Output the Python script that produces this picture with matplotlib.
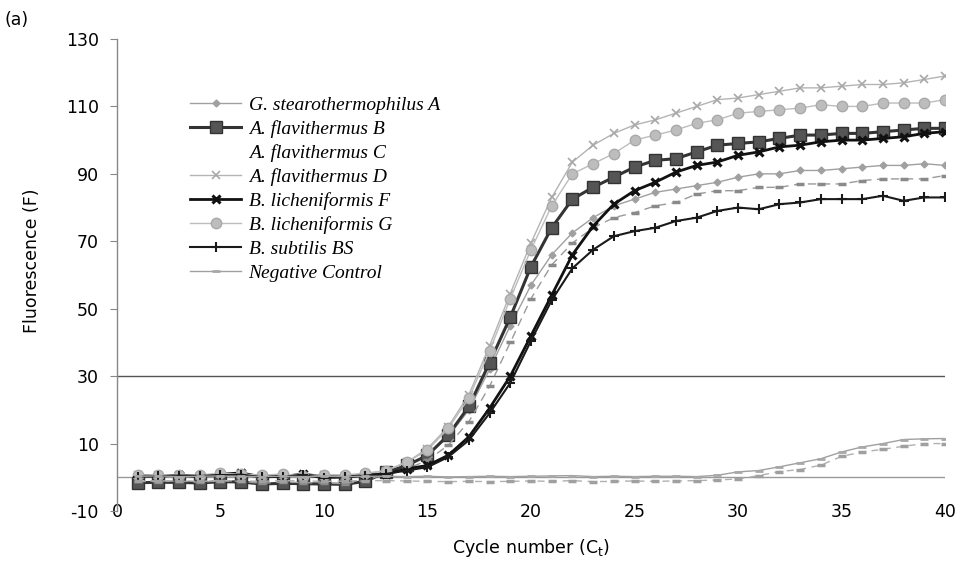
import numpy as np
import matplotlib
matplotlib.use("Agg")
import matplotlib.pyplot as plt

cycles = np.arange(1, 41)

# fluorescence readings per strain, cycles 1..40
g_stearo_A = [0.3, 0.5, 0.4, 0.3, 0.8, 0.9, 0.2, 0.5, 0.3, 0.4, 0.3, 0.8,
              1.5, 3.5, 6.5, 12, 20, 32, 45, 57, 66, 72.5, 77, 80.5, 82.5, 84.5,
              85.5, 86.5, 87.5, 89, 90, 90, 91, 91, 91.5, 92, 92.5, 92.5, 93, 92.5]
a_flavi_B = [-1.6, -1.5, -1.5, -1.7, -1.3, -1.4, -2.0, -1.8, -1.9, -2.0, -2.1, -1.2,
             1.5, 3.5, 6.5, 12.5, 21, 34, 47.5, 62.5, 74, 82.5, 86, 89, 92, 94,
             94.5, 96.5, 98.5, 99, 99.5, 100.5, 101.5, 101.5, 102, 102, 102.5, 103, 103.5, 103.5]
a_flavi_C = [-1.2, -1.3, -1.1, -1.5, -1.0, -1.2, -1.8, -1.4, -1.6, -1.7, -1.9, -0.9,
             1, 2.5, 5, 9.5, 16.5, 27, 40, 53, 63, 69.5, 74, 77, 78.5, 80.5,
             81.5, 84, 85, 85, 86, 86, 87, 87, 87, 88, 88.5, 88.5, 88.5, 89.5]
a_flavi_D = [0.8, 0.6, 0.8, 0.5, 1.0, 1.2, 0.4, 0.8, 0.5, 0.6, 0.5, 1.0,
             2, 4.5, 8.5, 15, 24.5, 39, 54.5, 69.5, 83, 93.5, 98.5, 102, 104.5, 106,
             108, 110, 112, 112.5, 113.5, 114.5, 115.5, 115.5, 116, 116.5, 116.5, 117, 118, 119]
b_lich_F = [0.5, 0.4, 0.6, 0.2, 0.9, 1.3, 0.1, 0.3, 0.9, 0.2, 0.1, 0.6,
            1, 2.5, 3.5, 6.5, 12, 20.5, 30, 42, 54, 66, 74.5, 81, 85, 87.5,
            90.5, 92.5, 93.5, 95.5, 96.5, 98, 98.5, 99.5, 100, 100, 100.5, 101, 102, 102.5]
b_lich_G = [0.6, 0.8, 0.6, 0.7, 1.2, 1.0, 0.6, 1.0, 0.4, 0.8, 0.7, 1.2,
            2, 4.5, 8, 14.5, 23.5, 37.5, 53, 67.5, 80.5, 90, 93, 96, 100, 101.5,
            103, 105, 106, 108, 108.5, 109, 109.5, 110.5, 110, 110, 111, 111, 111, 112]
b_subtilis = [0.2, 0.3, 0.5, 0.4, 0.6, 0.8, 0.0, 0.2, 0.6, -0.2, 0.0, 0.5,
              1, 2, 3, 6, 11, 19, 28, 40.5, 52.5, 62, 67.5, 71.5, 73, 74,
              76, 77, 79, 80, 79.5, 81, 81.5, 82.5, 82.5, 82.5, 83.5, 82, 83, 83]
neg_control = [0.3, 0.4, 0.2, 0.3, 0.4, 0.3, 0.2, 0.3, 0.2, 0.3, 0.2, 0.3,
               0.3, 0.2, 0.3, 0.1, 0.2, 0.3, 0.2, 0.3, 0.4, 0.5, 0.2, 0.3, 0.2, 0.3,
               0.3, 0.2, 0.6, 1.6, 2.0, 3.1, 4.3, 5.5, 7.5, 9, 10, 11.2, 11.4, 11.5]
neg_repeat = [-1.0, -1.1, -1.0, -1.2, -1.0, -1.1, -1.2, -1.0, -1.1, -1.2, -1.1, -1.0,
              -1.0, -1.1, -1.2, -1.3, -1.2, -1.3, -1.2, -1.1, -1.2, -1.0, -1.3, -1.2, -1.1, -1.2,
              -1.1, -1.0, -0.8, -0.5, 0.5, 1.7, 2.3, 3.6, 6.2, 7.5, 8.3, 9.2, 10, 10]

threshold = 30

plt.rcParams['font.family'] = ['DejaVu Sans']
plt.rcParams['mathtext.fontset'] = 'dejavusans'
plt.rcParams['axes.unicode_minus'] = False

fig = plt.figure(figsize=(9.61, 5.65), dpi=100)
ax = fig.add_axes([0.1217, 0.0956, 0.8617, 0.8354])

ax.plot(cycles, g_stearo_A, color='#a0a0a0', lw=1.0, marker='D', ms=3.5,
        mfc='#a0a0a0', mec='#a0a0a0', label='G. stearothermophilus A')
ax.plot(cycles, a_flavi_B, color='#333333', lw=2.2, marker='s', ms=8,
        mfc='#555555', mec='#333333', label='A. flavithermus B')
ax.plot(cycles, a_flavi_C, color='#9a9a9a', lw=1.0, ls=(0, (6, 4)), marker='_', ms=6,
        mew=2.5, mec='#8a8a8a', label='A. flavithermus C')
ax.plot(cycles, a_flavi_D, color='#b4b4b4', lw=1.0, marker='x', ms=6, mew=1.2,
        mec='#a8a8a8', label='A. flavithermus D')
ax.plot(cycles, b_lich_F, color='#111111', lw=2.0, marker='x', ms=5.5, mew=2.2,
        mec='#111111', label='B. licheniformis F')
ax.plot(cycles, b_lich_G, color='#bdbdbd', lw=1.0, marker='o', ms=7.5,
        mfc='#bdbdbd', mec='#aaaaaa', label='B. licheniformis G')
ax.plot(cycles, b_subtilis, color='#1a1a1a', lw=1.5, marker='+', ms=7, mew=1.5,
        mec='#1a1a1a', label='B. subtilis BS')
ax.plot(cycles, neg_control, color='#a0a0a0', lw=1.0, marker='_', ms=6, mew=2,
        mec='#a8a8a8', label='Negative Control')
ax.plot(cycles, neg_repeat, color='#b0b0b0', lw=1.0, ls=(0, (5, 4)), marker='_', ms=6,
        mew=2.5, mec='#a0a0a0', label='_nolegend_')

ax.axhline(threshold, color='#555555', lw=1.0, zorder=1)
ax.axhline(0, color='#999999', lw=1.0, zorder=1)

ax.set_xlim(0, 40)
ax.set_ylim(-10, 130)
ax.set_xticks(np.arange(0, 41, 5))
ax.set_yticks(np.arange(-10, 131, 20))

for s in ['top', 'right', 'bottom']:
    ax.spines[s].set_visible(False)
ax.spines['left'].set_color('#888888')
ax.spines['left'].set_linewidth(1.0)

ax.tick_params(axis='y', direction='out', length=5, color='#888888', labelsize=12.5, pad=8)
ax.tick_params(axis='x', length=0, labelsize=12.5, pad=-6)

ax.set_xlabel('Cycle number (C$_\\mathrm{t}$)', fontsize=12.5, labelpad=12)
ax.set_ylabel('Fluorescence (F)', fontsize=12.5)
ax.yaxis.set_label_coords(-0.092, 0.53)

leg = ax.legend(loc='upper left', bbox_to_anchor=(0.198, 0.83),
                bbox_transform=fig.transFigure, frameon=False, numpoints=1,
                prop={'family': 'Liberation Serif', 'style': 'italic', 'size': 14},
                handlelength=2.6, handletextpad=0.4, labelspacing=0.32,
                borderpad=0, borderaxespad=0)
leg.legend_handles[2].set_visible(False)

fig.text(0.005, 0.955, '(a)', fontsize=12.5)

fig.savefig('out.png', dpi=100)
